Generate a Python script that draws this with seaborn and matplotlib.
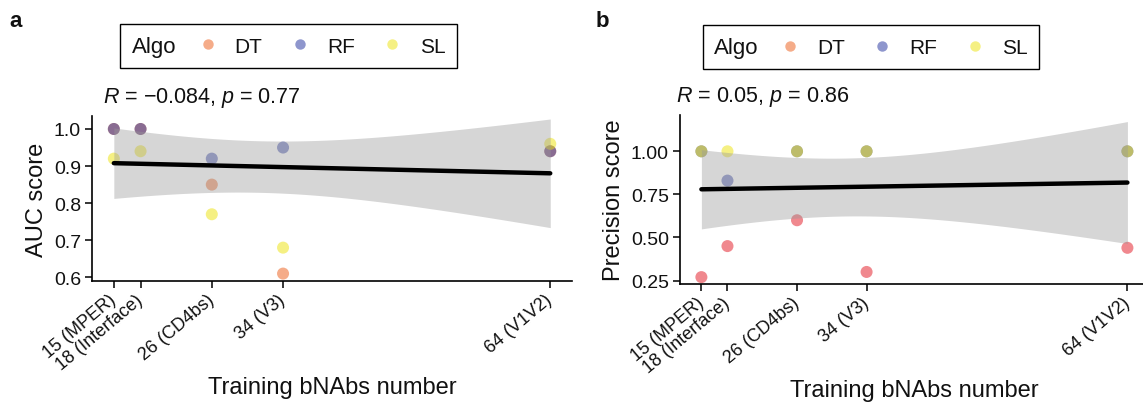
import numpy as np
import pandas as pd
import matplotlib
matplotlib.use("Agg")
import matplotlib.pyplot as plt
from matplotlib.lines import Line2D
from matplotlib.offsetbox import HPacker
import seaborn as sns

# ------------------------------------------------------------------
# Datos
# ------------------------------------------------------------------
n_bnabs = [15, 18, 26, 34, 64]
x_labels = ["15 (MPER)", "18 (Interface)", "26 (CD4bs)", "34 (V3)", "64 (V1V2)"]
algos = ["DT", "RF", "SL"]

auc_dt = [1.00, 1.00, 0.85, 0.61, 0.94]
auc_rf = [1.00, 1.00, 0.92, 0.95, 0.94]
auc_sl = [0.92, 0.94, 0.77, 0.68, 0.96]

prec_dt = [0.27, 0.45, 0.60, 0.30, 0.44]
prec_rf = [1.00, 0.83, 1.00, 1.00, 1.00]
prec_sl = [1.00, 1.00, 1.00, 1.00, 1.00]

pal_a = {"DT": "#EC5A14", "RF": "#1E2E9C", "SL": "#ECE208"}
pal_b = {"DT": "#E2121F", "RF": "#1E2E9C", "SL": "#ECE208"}
legend_cols = {"DT": "#EC5A14", "RF": "#1E2E9C", "SL": "#ECE208"}

sns.set_theme(style="ticks")
plt.rcParams["font.family"] = ["Liberation Sans", "DejaVu Sans"]
plt.rcParams["mathtext.fontset"] = "custom"
plt.rcParams["mathtext.rm"] = "Liberation Sans"
plt.rcParams["mathtext.it"] = "Liberation Sans:italic"
plt.rcParams["text.color"] = "#111111"
plt.rcParams["axes.labelcolor"] = "#111111"


def panel(ax, series, palette, ylabel, yticks, ytick_fmt, ylim, stat_text, stat_x):
    df = pd.DataFrame({
        "n": n_bnabs * len(algos),
        "score": sum(series, []),
        "Algo": np.repeat(algos, len(n_bnabs)),
    })
    sns.scatterplot(data=df, x="n", y="score", hue="Algo", hue_order=algos,
                    palette=palette, s=75, alpha=0.5, linewidth=0,
                    legend=False, ax=ax, zorder=2)

    # ajuste lineal + IC 95% (como geom_smooth(method = "lm"))
    x = df["n"].to_numpy(float)
    y = df["score"].to_numpy(float)
    b1, b0 = np.polyfit(x, y, 1)
    grid = np.linspace(x.min(), x.max(), 200)
    resid = y - (b0 + b1 * x)
    s = np.sqrt((resid ** 2).sum() / (len(x) - 2))
    se = s * np.sqrt(1 / len(x) + (grid - x.mean()) ** 2 / ((x - x.mean()) ** 2).sum())
    t = 2.1604  # t(0.975, df = 13)
    fit = b0 + b1 * grid
    ax.fill_between(grid, fit - t * se, fit + t * se, color="#999999",
                    alpha=0.4, lw=0, zorder=3)
    sns.regplot(data=df, x="n", y="score", scatter=False, ci=None,
                color="black", line_kws={"lw": 3.2, "zorder": 4}, ax=ax)

    ax.set_xlim(12.55, 66.45)
    ax.set_ylim(*ylim)
    ax.set_xticks(n_bnabs)
    ax.set_xticklabels(x_labels, rotation=40, ha="right", va="center",
                       rotation_mode="anchor", fontsize=13)
    ax.set_yticks(yticks)
    ax.set_yticklabels([ytick_fmt.format(v) for v in yticks], fontsize=14)
    ax.tick_params(length=5, width=1.1, colors="black", labelcolor="#111111", pad=3)
    ax.tick_params(axis="x", pad=7)
    ax.set_xlabel("Training bNAbs number", fontsize=17, labelpad=2)
    ax.set_ylabel(ylabel, fontsize=17)
    sns.despine(ax=ax)
    for sp in ax.spines.values():
        sp.set_linewidth(1.2)
        sp.set_color("black")
    ax.text(stat_x, 1.115, stat_text, transform=ax.transAxes, fontsize=15.5,
            va="center", ha="left")


fig = plt.figure(figsize=(11.43, 4.06), dpi=100)
ax_a = fig.add_axes([0.0805, 0.3054, 0.42, 0.4064])
ax_b = fig.add_axes([0.595, 0.298, 0.41, 0.416])

panel(ax_a, [auc_dt, auc_rf, auc_sl], pal_a, "AUC score",
      [0.6, 0.7, 0.8, 0.9, 1.0], "{:.1f}", (0.59, 1.035),
      "$R$ = \u22120.084, $p$ = 0.77", 0.023)
panel(ax_b, [prec_dt, prec_rf, prec_sl], pal_b, "Precision score",
      [0.25, 0.50, 0.75, 1.00], "{:.2f}", (0.23, 1.21),
      "$R$ = 0.05, $p$ = 0.86", -0.008)

# leyendas horizontales con el titulo "Algo" a la izquierda
for center in [(0.2524, 0.884), (0.762, 0.881)]:
    handles = [Line2D([], [], ls="", marker="o", markersize=7.5, alpha=0.5,
                      markeredgewidth=0, color=legend_cols[a]) for a in algos]
    leg = fig.legend(handles, algos, title="Algo", loc="center",
                     bbox_to_anchor=center, ncol=3, fontsize=15,
                     title_fontsize=16, frameon=True, fancybox=False,
                     edgecolor="black", framealpha=1, handlelength=1.0,
                     handletextpad=0.8, columnspacing=1.3, borderpad=0.55)
    leg.get_frame().set_linewidth(1.0)
    leg._legend_box.__class__ = HPacker
    leg._legend_box.sep = 15
    leg._legend_box.align = "center"

fig.text(0.014, 0.946, "a", fontsize=16, fontweight="bold", va="center", ha="center")
fig.text(0.527, 0.946, "b", fontsize=16, fontweight="bold", va="center", ha="center")

fig.savefig("out.png", dpi=100)
